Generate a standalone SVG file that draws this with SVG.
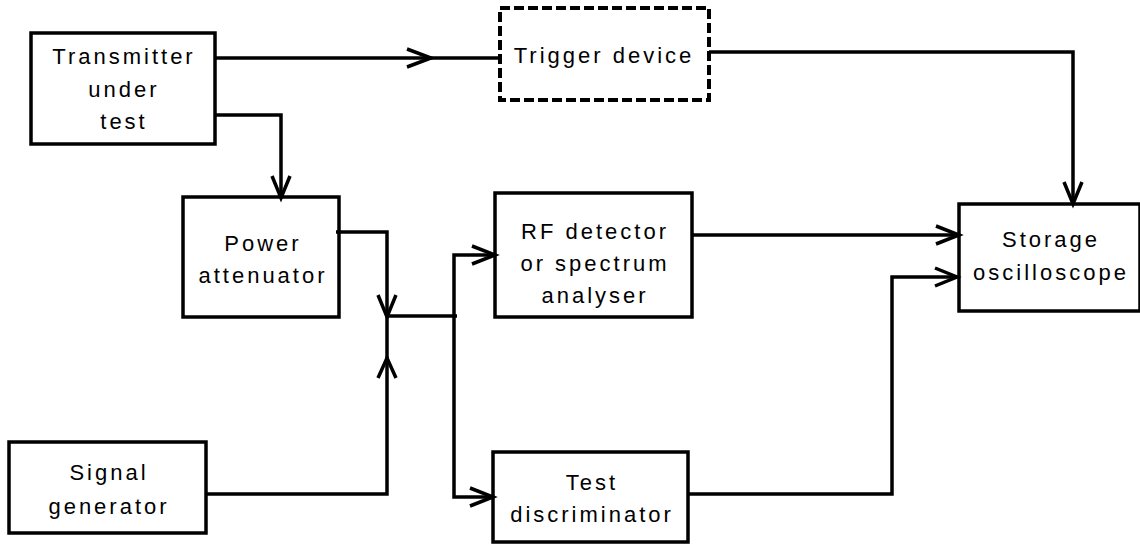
<svg xmlns="http://www.w3.org/2000/svg" width="1140" height="545" viewBox="0 0 1140 545">
<defs>
<style>
.box{fill:#fff;stroke:#000;stroke-width:3.5}
.dash{fill:#fff;stroke:#000;stroke-width:4;stroke-dasharray:10 4}
.ln{fill:none;stroke:#000;stroke-width:3.5;stroke-linejoin:miter}
.ah{fill:none;stroke:#000;stroke-width:3.5;stroke-linecap:butt}
text{font-family:"Liberation Sans",Arial,sans-serif;font-size:22px;letter-spacing:3px;text-anchor:middle;fill:#000}
</style>
</defs>
<g id="transmitter">
<rect class="box" x="31" y="33" width="184" height="111"/>
<text x="124" y="64">Transmitter</text>
<text x="124" y="97">under</text>
<text x="124" y="129">test</text>
</g>
<g id="trigger">
<rect class="dash" x="500" y="8" width="209" height="92"/>
<text x="604" y="63">Trigger device</text>
</g>
<g id="power">
<rect class="box" x="183" y="197" width="156" height="120"/>
<text x="263" y="251">Power</text>
<text x="263" y="283">attenuator</text>
</g>
<g id="rf">
<rect class="box" x="495" y="193" width="197" height="124"/>
<text x="595" y="239">RF detector</text>
<text x="595" y="271">or spectrum</text>
<text x="595" y="303">analyser</text>
</g>
<g id="storage">
<rect class="box" x="959" y="204" width="181" height="107"/>
<text x="1051" y="247">Storage</text>
<text x="1051" y="280">oscilloscope</text>
</g>
<g id="signal">
<rect class="box" x="9" y="442" width="197" height="91"/>
<text x="109" y="480">Signal</text>
<text x="109" y="514">generator</text>
</g>
<g id="discriminator">
<rect class="box" x="493" y="452" width="195" height="90"/>
<text x="592" y="490">Test</text>
<text x="592" y="522">discriminator</text>
</g>
<g id="connectors">
<path class="ln" d="M215 58 H500"/>
<path class="ah" d="M407 49 L431 58 L407 67"/>
<path class="ln" d="M215 115 H281 V196"/>
<path class="ah" d="M272 176 L281 198 L290 176"/>
<path class="ln" d="M336 232 H387 V494 H206"/>
<path class="ah" d="M378 295 L387 317 L396 295"/>
<path class="ah" d="M378 378 L387 358 L396 378"/>
<path class="ln" d="M387 316 H457"/>
<path class="ln" d="M454 316 V255 H494"/>
<path class="ah" d="M472 246 L495 255 L472 264"/>
<path class="ln" d="M454 316 V497 H492"/>
<path class="ah" d="M470 488 L493 497 L470 506"/>
<path class="ln" d="M692 235 H958"/>
<path class="ah" d="M936 226 L959 235 L936 244"/>
<path class="ln" d="M709 52 H1073 V203"/>
<path class="ah" d="M1064 182 L1073 204 L1082 182"/>
<path class="ln" d="M688 494 H892 V277 H956"/>
<path class="ah" d="M935 268 L957 277 L935 286"/>
</g>
</svg>
